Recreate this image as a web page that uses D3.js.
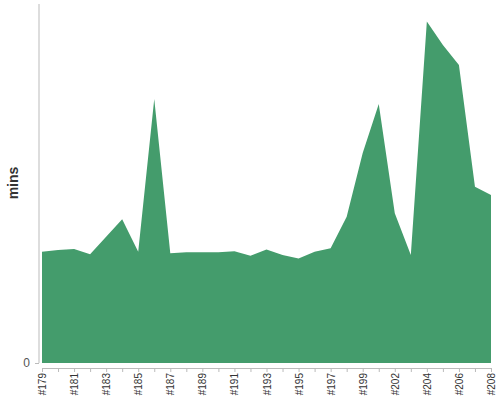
<!DOCTYPE html>
<html>
<head>
<meta charset="utf-8">
<script src="https://cdn.jsdelivr.net/npm/d3@7"></script>
<style>
  body { margin: 0; background: #fff; }
  text { font-family: Arial, "Liberation Sans", sans-serif; }
</style>
</head>
<body>
<svg id="chart" width="500" height="400"></svg>
<script>
// builds
const builds = ['#179', '#180', '#181', '#182', '#183', '#184', '#185', '#186', '#187', '#188',
  '#189', '#190', '#191', '#192', '#193', '#194', '#195', '#196', '#197', '#198',
  '#199', '#201', '#202', '#203', '#204', '#205', '#206', '#207', '#208'];

// duration in minutes
const mins = [6.51, 6.61, 6.67, 6.36, 7.39, 8.41, 6.51, 15.44, 6.42, 6.48,
  6.48, 6.48, 6.53, 6.28, 6.64, 6.32, 6.12, 6.51, 6.71, 8.56,
  12.28, 15.15, 8.76, 6.32, 19.97, 18.60, 17.43, 10.31, 9.83];

const yTicks = [0];

const svg = d3.select('#chart');

const x = d3.scalePoint().domain(builds).range([42, 491]);
const y = d3.scaleLinear().domain([0, 21]).range([363, 4]);

const data = builds.map((b, i) => ({ build: b, value: mins[i] }));

const area = d3.area()
  .x(d => x(d.build))
  .y0(y(0))
  .y1(d => y(d.value));

svg.append('path')
  .datum(data)
  .attr('d', area)
  .attr('fill', '#449c6c');

// y axis
const yAxis = svg.append('g')
  .attr('transform', 'translate(39,0)')
  .call(d3.axisLeft(y).tickValues(yTicks).tickSize(4).tickPadding(5));
yAxis.select('.domain').attr('stroke', '#bbb').attr('d', 'M0,4V363');
yAxis.selectAll('.tick line').attr('stroke', '#bbb');
yAxis.selectAll('.tick text')
  .attr('fill', '#555')
  .attr('font-size', '12px');

// x axis
const xAxis = svg.append('g')
  .attr('transform', 'translate(0,368)')
  .call(d3.axisBottom(x).tickSize(4).tickSizeOuter(0));
xAxis.select('.domain').attr('stroke', '#bbb');
xAxis.selectAll('.tick line').attr('stroke', '#bbb');
xAxis.selectAll('.tick text')
  .attr('fill', '#333')
  .attr('font-size', '10px')
  .attr('transform', 'rotate(-90)')
  .attr('text-anchor', 'end')
  .attr('x', -5)
  .attr('y', 0)
  .attr('dy', '0.35em')
  .style('display', (d, i) => (i % 2 === 0 ? null : 'none'));

// y label
svg.append('text')
  .attr('transform', 'translate(13,183) rotate(-90)')
  .attr('text-anchor', 'middle')
  .attr('dy', '0.35em')
  .attr('font-size', '14px')
  .attr('font-weight', 'bold')
  .attr('fill', '#333')
  .text('mins');
</script>
</body>
</html>
